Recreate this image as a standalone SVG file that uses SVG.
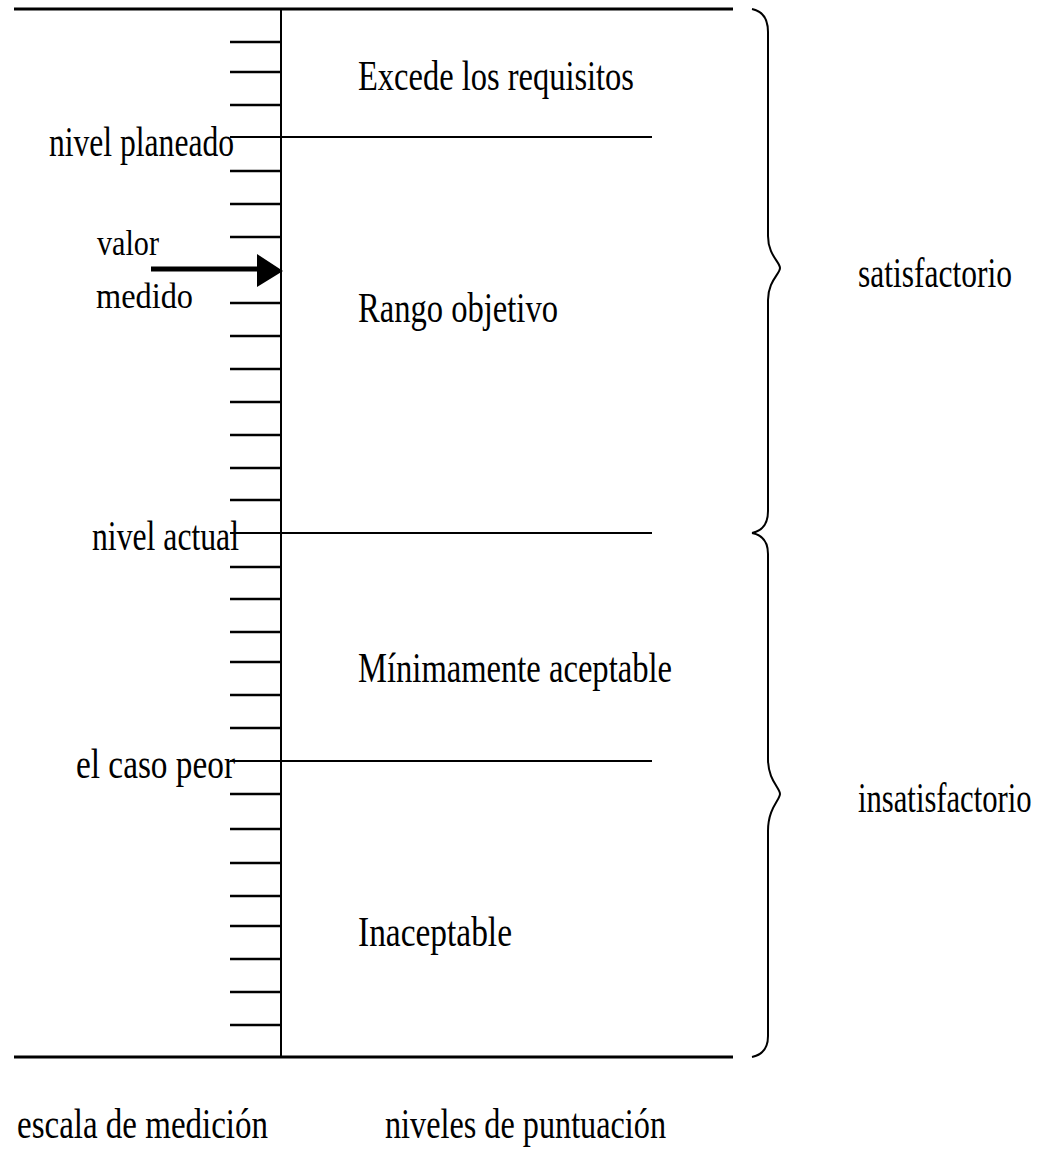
<svg xmlns="http://www.w3.org/2000/svg" width="1043" height="1149" viewBox="0 0 1043 1149">
<style>
.t{font-family:"Liberation Serif","Times New Roman",serif;font-size:42px;fill:#000}
.s{font-family:"Liberation Serif","Times New Roman",serif;font-size:36px;fill:#000}
.ln{stroke:#000;stroke-width:2;fill:none}
.bd{stroke:#000;stroke-width:3;fill:none}
.tk{stroke:#000;stroke-width:2.5}
</style>
<rect width="1043" height="1149" fill="#fff"/>
<g id="frame">
<line class="bd" x1="14" y1="9" x2="733" y2="9"/>
<line class="bd" x1="14" y1="1057" x2="733" y2="1057"/>
<line class="ln" x1="281" y1="9" x2="281" y2="1057"/>
</g>
<g id="ticks">
<line class="tk" x1="230" y1="42" x2="281" y2="42"/>
<line class="tk" x1="230" y1="72" x2="281" y2="72"/>
<line class="tk" x1="230" y1="105" x2="281" y2="105"/>
<line class="tk" x1="230" y1="171" x2="281" y2="171"/>
<line class="tk" x1="230" y1="204" x2="281" y2="204"/>
<line class="tk" x1="230" y1="237" x2="281" y2="237"/>
<line class="tk" x1="230" y1="303" x2="281" y2="303"/>
<line class="tk" x1="230" y1="336" x2="281" y2="336"/>
<line class="tk" x1="230" y1="369" x2="281" y2="369"/>
<line class="tk" x1="230" y1="402" x2="281" y2="402"/>
<line class="tk" x1="230" y1="435" x2="281" y2="435"/>
<line class="tk" x1="230" y1="468" x2="281" y2="468"/>
<line class="tk" x1="230" y1="500" x2="281" y2="500"/>
<line class="tk" x1="230" y1="567" x2="281" y2="567"/>
<line class="tk" x1="230" y1="599" x2="281" y2="599"/>
<line class="tk" x1="230" y1="632" x2="281" y2="632"/>
<line class="tk" x1="230" y1="662" x2="281" y2="662"/>
<line class="tk" x1="230" y1="695" x2="281" y2="695"/>
<line class="tk" x1="230" y1="728" x2="281" y2="728"/>
<line class="tk" x1="230" y1="794" x2="281" y2="794"/>
<line class="tk" x1="230" y1="829" x2="281" y2="829"/>
<line class="tk" x1="230" y1="863" x2="281" y2="863"/>
<line class="tk" x1="230" y1="896" x2="281" y2="896"/>
<line class="tk" x1="230" y1="926" x2="281" y2="926"/>
<line class="tk" x1="230" y1="959" x2="281" y2="959"/>
<line class="tk" x1="230" y1="992" x2="281" y2="992"/>
<line class="tk" x1="230" y1="1025" x2="281" y2="1025"/>
</g>
<g id="levels">
<line class="ln" x1="230" y1="137" x2="652" y2="137"/>
<line class="ln" x1="230" y1="533" x2="652" y2="533"/>
<line class="ln" x1="230" y1="761" x2="652" y2="761"/>
</g>
<g id="nivel-planeado"><text class="t" x="49" y="156" textLength="185" lengthAdjust="spacingAndGlyphs">nivel planeado</text></g>
<g id="valor-medido">
<text class="s" x="97" y="255" textLength="62" lengthAdjust="spacingAndGlyphs">valor</text>
<text class="s" x="96" y="308" textLength="97" lengthAdjust="spacingAndGlyphs">medido</text>
</g>
<g id="nivel-actual"><text class="t" x="92" y="550" textLength="147" lengthAdjust="spacingAndGlyphs">nivel actual</text></g>
<g id="caso-peor"><text class="t" x="76" y="778" textLength="159" lengthAdjust="spacingAndGlyphs">el caso peor</text></g>
<g id="excede"><text class="t" x="358" y="90" textLength="276" lengthAdjust="spacingAndGlyphs">Excede los requisitos</text></g>
<g id="rango"><text class="t" x="358" y="322" textLength="200" lengthAdjust="spacingAndGlyphs">Rango objetivo</text></g>
<g id="minimamente"><text class="t" x="358" y="682" textLength="314" lengthAdjust="spacingAndGlyphs">Mínimamente aceptable</text></g>
<g id="inaceptable"><text class="t" x="358" y="946" textLength="154" lengthAdjust="spacingAndGlyphs">Inaceptable</text></g>
<g id="satisfactorio">
<path class="ln" d="M752,9 C762,11 768,18 768,32 L768,236 C768,255 780,262 780,268 C780,274 768,281 768,300 L768,511 C768,524 762,531 752,533"/>
<text class="t" transform="translate(858,287) scale(0.75,1)" x="0" y="0">satisfactorio</text>
</g>
<g id="insatisfactorio">
<path class="ln" d="M752,533 C762,535 768,542 768,554 L768,759 C768,780 780,788 780,794 C780,800 768,808 768,831 L768,1036 C768,1049 762,1055 752,1057"/>
<text class="t" transform="translate(858,812) scale(0.73,1)" x="0" y="0">insatisfactorio</text>
</g>
<g id="escala"><text class="t" x="17" y="1138" textLength="251" lengthAdjust="spacingAndGlyphs">escala de medición</text></g>
<g id="niveles"><text class="t" x="385" y="1138" textLength="281" lengthAdjust="spacingAndGlyphs">niveles de puntuación</text></g>
<g id="connectors">
<line x1="151" y1="269" x2="260" y2="269" stroke="#000" stroke-width="5"/>
<polygon points="257,254 283,271 257,287" fill="#000"/>
</g>
</svg>
